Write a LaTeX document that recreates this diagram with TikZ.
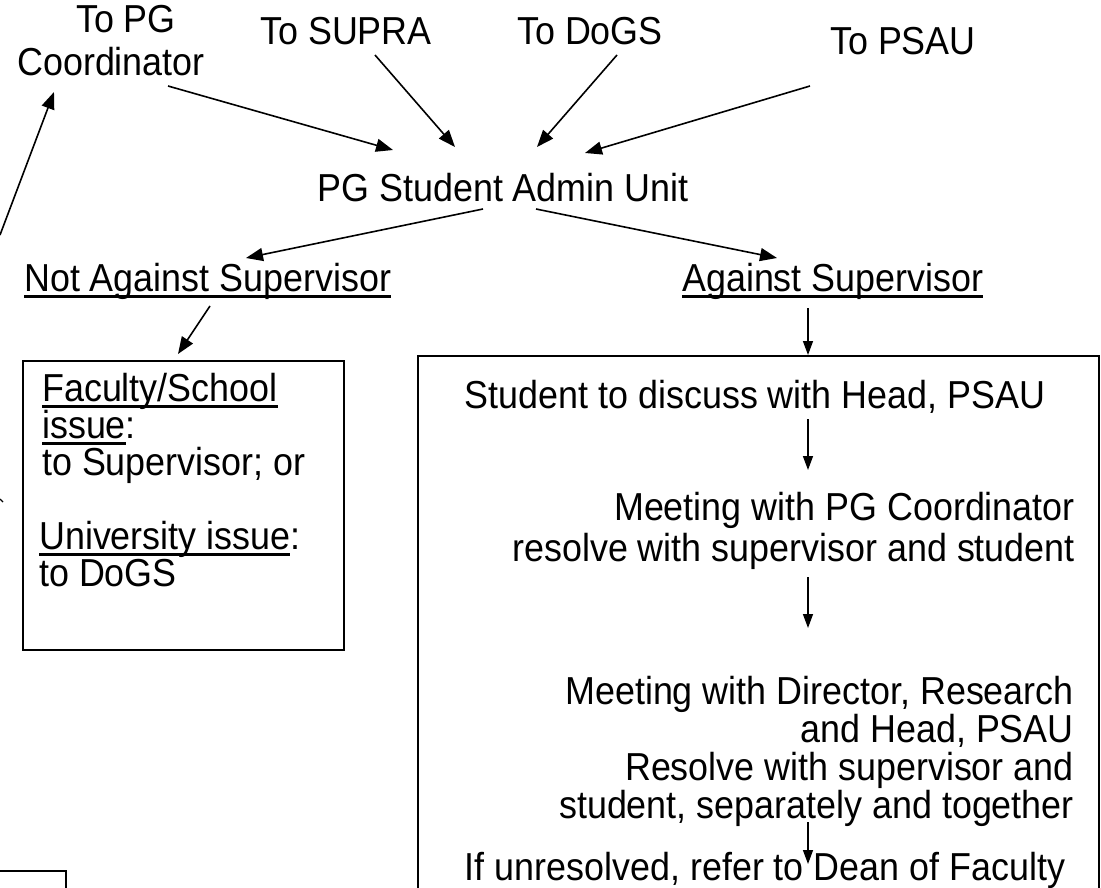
\documentclass[tikz,border=0pt]{standalone}
\usepackage{fontspec}
\setmainfont{Liberation Sans}[FakeStretch=0.92]
\usetikzlibrary{arrows.meta}
\newcommand\myul[1]{\setbox0\hbox{#1}\rlap{\rule[-6.5pt]{\wd0}{2.2pt}}\box0}
\begin{document}
\begin{tikzpicture}[x=1pt,y=-1pt,
  txt/.style={inner sep=0pt, font=\fontsize{39}{40.5}\selectfont},
  arr/.style={line width=1.6pt, -{Triangle[length=17pt,width=13pt]}},
  sarr/.style={line width=1.4pt, -{Triangle[length=14pt,width=10pt]}},
  boxline/.style={line width=1.8pt}]
\useasboundingbox (0,0) rectangle (1101,888);
\clip (0,0) rectangle (1101,888);
% top labels (anchor=base is the baseline of the last line)
\node[txt, align=center, anchor=base, font=\fontsize{39}{43}\selectfont] (pgc) at (111,76) {\hspace*{30pt}To PG\\Coordinator};
\node[txt, anchor=base] (supra) at (346,45) {To SUPRA};
\node[txt, anchor=base] (dogs) at (590,45) {To DoGS};
\node[txt, anchor=base] (psau) at (903,55) {To PSAU};
\node[txt, anchor=base] (unit) at (503,201) {PG Student Admin Unit};
\node[txt, anchor=base west] (notag) at (24,291) {\myul{Not Against Supervisor}};
\node[txt, anchor=base west] (ag) at (682,291) {\myul{Against Supervisor}};
% boxes
\node[draw, boxline, anchor=north west, minimum width=321pt, minimum height=289pt, inner sep=0pt] (lbox) at (22,360) {};
\node[txt, align=left, anchor=base west, font=\fontsize{39}{37}\selectfont] (ltext) at (42,586)
  {\myul{Faculty/School}\\\myul{issue}:\\to Supervisor; or\\[37pt]\kern-3pt\myul{University issue}:\\\kern-3pt to DoGS};
\node[draw, boxline, anchor=north west, minimum width=681pt, minimum height=600pt, inner sep=0pt] (rbox) at (417,355) {};
\node[txt, anchor=base] (s1) at (755,408) {Student to discuss with Head, PSAU};
\node[txt, align=right, anchor=base east] (s2) at (1075,561) {Meeting with PG Coordinator\\resolve with supervisor and student};
\node[txt, align=right, anchor=base east, font=\fontsize{39}{38}\selectfont] (s3) at (1074,818) {Meeting with Director, Research\\and Head, PSAU\\Resolve with supervisor and\\student, separately and together};
\node[txt, anchor=base] (s4) at (765,880) {If unresolved, refer to Dean of Faculty};
% connector end points
\coordinate (a1s) at (168,86);  \coordinate (a1e) at (393,150);
\coordinate (a2s) at (375,55);  \coordinate (a2e) at (455,147);
\coordinate (a3s) at (617,55);  \coordinate (a3e) at (537,147);
\coordinate (a4s) at (810,86);  \coordinate (a4e) at (585,153);
\coordinate (b1s) at (483,209); \coordinate (b1e) at (246,258);
\coordinate (b2s) at (536,209); \coordinate (b2e) at (777,258);
\coordinate (c1s) at (210,306); \coordinate (c1e) at (178,354);
\coordinate (c2s) at (808,308); \coordinate (c2e) at (808,355);
\coordinate (d1s) at (808,419); \coordinate (d1e) at (808,470);
\coordinate (d2s) at (808,577); \coordinate (d2e) at (808,628);
\coordinate (d3s) at (808,822); \coordinate (d3e) at (808,864);
\coordinate (e1s) at (0,235);   \coordinate (e1e) at (54,92);
% connectors
\draw[arr] (a1s) -- (a1e);
\draw[arr] (a2s) -- (a2e);
\draw[arr] (a3s) -- (a3e);
\draw[arr] (a4s) -- (a4e);
\draw[arr] (b1s) -- (b1e);
\draw[arr] (b2s) -- (b2e);
\draw[arr] (c1s) -- (c1e);
\draw[sarr] (c2s) -- (c2e);
\draw[sarr] (d1s) -- (d1e);
\draw[sarr] (d2s) -- (d2e);
\draw[sarr] (d3s) -- (d3e);
\draw[arr] (e1s) -- (e1e);
% fragments at the edge
\coordinate (t1) at (0,499); \coordinate (t2) at (3,502);
\draw[line width=1.2pt] (t1) -- (t2);
\coordinate (f1) at (0,871); \coordinate (f2) at (66,871); \coordinate (f3) at (66,892);
\draw[boxline] (f1) -- (f2) -- (f3);
\end{tikzpicture}
\end{document}
